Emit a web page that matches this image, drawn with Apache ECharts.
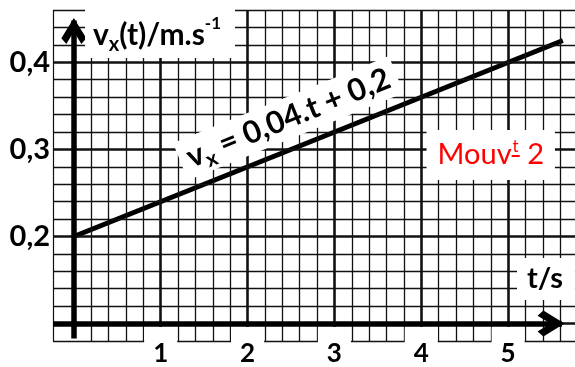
<!DOCTYPE html>
<html>
<head>
<meta charset="utf-8">
<script src="https://cdn.jsdelivr.net/npm/echarts@6/dist/echarts.min.js"></script>
<style>
  html, body { margin: 0; padding: 0; background: #fff; }
  #chart { width: 575px; height: 367px; }
</style>
</head>
<body>
<div id="chart"></div>
<script>
// Velocity of the motion: v_x = 0,04.t + 0,2
const timeValues = [0, 5.63];
const speedValues = [0.2, 0.425];
const timeTicks = [1, 2, 3, 4, 5];
const speedTicks = [0.2, 0.3, 0.4];

const X_MIN = -0.24, X_MAX = 5.77;
const Y_MIN = 0.08, Y_MAX = 0.46;
const FONT = 'Lato, "Open Sans", sans-serif';

// Graph-paper lines: minor every 0.2 s / 0.02 m/s, bold at each unit / 0.1
const gridLines = [];
gridLines.push({ xAxis: X_MIN, lineStyle: { width: 1.2 } });
for (let k = 1; k <= 28; k++) {
  const t = Math.round(k * 0.2 * 100) / 100;
  gridLines.push({ xAxis: t, lineStyle: { width: (k % 5 === 0) ? 2.6 : 1.3 } });
}
for (let k = 0; k <= 19; k++) {
  const v = Math.round((0.08 + k * 0.02) * 1000) / 1000;
  const major = Math.abs(v * 10 - Math.round(v * 10)) < 1e-6;
  gridLines.push({ yAxis: v, lineStyle: { width: major ? 2.6 : 1.3 } });
}

// Open arrow head, pointing up in its own frame
const chevron = 'path://M5,0 L10,7.2 L8,9.2 L5,4.8 L2,9.2 L0,7.2 Z';
const noStroke = { width: 0 };

// Red underline strip for the small raised "t"
const underline = new echarts.graphic.LinearGradient(0, 0, 0, 1, [
  { offset: 0, color: 'rgba(255,0,0,0)' },
  { offset: 0.9, color: 'rgba(255,0,0,0)' },
  { offset: 0.9, color: '#ff0000' },
  { offset: 1, color: '#ff0000' }
]);

const chart = echarts.init(document.getElementById('chart'), null, { renderer: 'canvas' });
chart.setOption({
  animation: false,
  backgroundColor: '#fff',
  title: [
    {
      text: '{a|v}{sub|x}{a|(t)/m.s}{sup|-1}',
      left: 85, top: 0,
      padding: [15, 14, 3, 8],
      backgroundColor: '#fff',
      z: 20,
      textStyle: {
        rich: {
          a: { fontFamily: FONT, fontWeight: 'bold', fontSize: 30, lineHeight: 40, color: '#000' },
          sub: { fontFamily: FONT, fontWeight: 'bold', fontSize: 20, lineHeight: 20, verticalAlign: 'bottom', color: '#000' },
          sup: { fontFamily: FONT, fontWeight: 'bold', fontSize: 17, lineHeight: 20, verticalAlign: 'top', color: '#000' }
        }
      }
    },
    {
      text: 't/s',
      left: 517, top: 258,
      padding: [4, 12, 4, 10],
      backgroundColor: '#fff',
      z: 20,
      textStyle: { fontFamily: FONT, fontWeight: 'bold', fontSize: 29, lineHeight: 34, color: '#000' }
    }
  ],
  grid: { left: 53, right: 0, top: 10, bottom: 26, outerBoundsMode: 'none', containLabel: false },
  xAxis: {
    type: 'value', min: X_MIN, max: X_MAX,
    z: 10,
    axisLine: { show: false }, axisTick: { show: false }, splitLine: { show: false },
    axisLabel: {
      customValues: timeTicks,
      margin: -14,
      fontFamily: FONT, fontWeight: 'bold', fontSize: 26, lineHeight: 26, color: '#000',
      backgroundColor: '#fff',
      padding: [14, 9, 14, 9]
    }
  },
  yAxis: {
    type: 'value', min: Y_MIN, max: Y_MAX,
    axisLine: { show: false }, axisTick: { show: false }, splitLine: { show: false },
    axisLabel: {
      customValues: speedTicks,
      margin: 3,
      fontFamily: FONT, fontWeight: 'bold', fontSize: 29, color: '#000',
      padding: [16, 0, 0, 0],
      formatter: v => v.toFixed(1).replace('.', ',')
    }
  },
  series: [
    {
      type: 'line', data: [], silent: true, z: 1,
      markLine: {
        silent: true, symbol: 'none', animation: false,
        label: { show: false },
        lineStyle: { color: '#111', type: 'solid' },
        emphasis: { disabled: true },
        data: gridLines
      }
    },
    {
      type: 'line', data: [], silent: true, z: 3,
      markLine: {
        silent: true, animation: false,
        symbol: 'none',
        symbolSize: [26, 26],
        label: { show: false },
        lineStyle: { color: '#000', type: 'solid', width: 5.5, cap: 'butt' },
        itemStyle: { color: '#000' },
        emphasis: { disabled: true },
        data: [
          // t axis at v = 0,1 and v axis at t = 0
          [{ coord: [X_MIN, 0.1] }, { coord: [5.62, 0.1] }],
          [{ coord: [0, 0.083] }, { coord: [0, 0.448] }],
          // arrow heads
          [{ coord: [5.2, 0.1], lineStyle: noStroke }, { coord: [5.494, 0.1], symbol: chevron, symbolSize: [26, 27] }],
          [{ coord: [0, 0.4], lineStyle: noStroke }, { coord: [0, 0.436], symbol: chevron, symbolSize: [25, 26] }]
        ]
      }
    },
    {
      type: 'line', z: 4, silent: true,
      data: timeValues.map((t, i) => [t, speedValues[i]]),
      showSymbol: false,
      lineStyle: { color: '#000', width: 5 },
      markPoint: {
        silent: true, animation: false,
        symbol: 'rect', symbolSize: 1,
        itemStyle: { color: 'rgba(0,0,0,0)' },
        data: [
          {
            coord: [2.47, 0.336],
            label: {
              show: true, position: 'inside', rotate: 22,
              backgroundColor: '#fff', padding: [0, 8, 0, 8],
              formatter: '{b|v}{s|x}{b| = 0,04.t + 0,2}',
              rich: {
                b: { fontFamily: FONT, fontWeight: 'bold', fontSize: 31, lineHeight: 40, color: '#000' },
                s: { fontFamily: FONT, fontWeight: 'bold', fontSize: 21, lineHeight: 20, verticalAlign: 'bottom', color: '#000' }
              }
            }
          },
          {
            coord: [4.80, 0.2935],
            label: {
              show: true, position: 'inside',
              backgroundColor: '#fff', padding: [8, 11, 8, 11],
              formatter: '{r|Mouv}{s|t}{r| 2}',
              rich: {
                r: { fontFamily: FONT, fontSize: 29, lineHeight: 34, color: '#ff0000' },
                s: {
                  fontFamily: FONT, fontSize: 17, lineHeight: 18, verticalAlign: 'top',
                  padding: [0, 1, 2, 1], color: '#ff0000', backgroundColor: underline
                }
              }
            }
          }
        ]
      }
    }
  ]
});
</script>
</body>
</html>
